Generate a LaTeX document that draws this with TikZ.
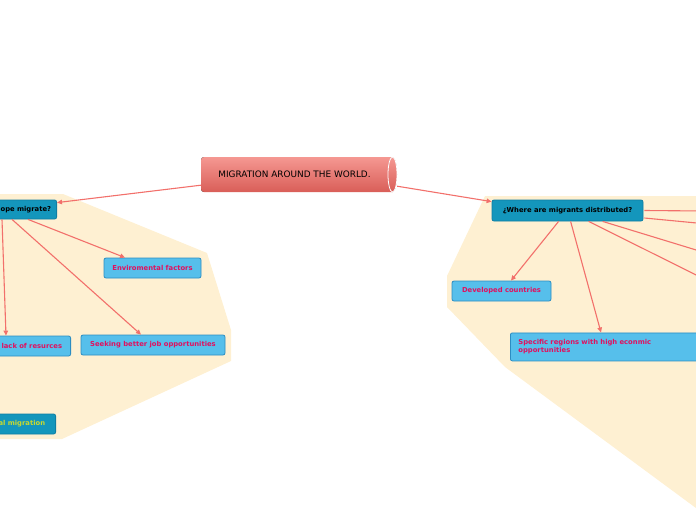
\documentclass[tikz,border=0pt]{standalone}
\usepackage{fontspec}
\setmainfont{DejaVu Sans}
\usetikzlibrary{arrows.meta}
\definecolor{cream}{HTML}{FEF0D2}
\definecolor{lblue}{HTML}{56BFEB}
\definecolor{lblueb}{HTML}{2C8DC2}
\definecolor{dblue}{HTML}{1496BC}
\definecolor{dblueb}{HTML}{0F7EA3}
\definecolor{pinktxt}{HTML}{E0115F}
\definecolor{conn}{HTML}{F2706B}
\definecolor{ygreen}{HTML}{C9D930}
\definecolor{cylT}{HTML}{F59892}
\definecolor{cylB}{HTML}{D95E58}
\begin{document}
\begin{tikzpicture}[x=1pt,y=-1pt,
  lbox/.style={draw=lblueb, fill=lblue, rounded corners=2pt, line width=0.8pt,
    font=\fontsize{6.8}{8}\selectfont\bfseries, text=pinktxt, inner ysep=0pt, inner xsep=0pt},
  dbox/.style={draw=dblueb, fill=dblue, rounded corners=2pt, line width=0.8pt,
    font=\fontsize{6.8}{8}\selectfont\bfseries, text=black, inner ysep=0pt, inner xsep=0pt},
  conline/.style={draw=conn, line width=1.1pt},
  arr/.style={conline, -{Triangle[length=5pt,width=4.5pt]}},
  bgarea/.style={fill=cream, draw=none}]
\useasboundingbox (0,0) rectangle (696,520);
\clip (0,0) rectangle (696,520);

% background areas
\path[bgarea] (-5,194) -- (63,194) -- (207,253) -- (231,330) -- (231,361) -- (62,439) -- (-5,439) -- cycle;
\path[bgarea] (485,196) -- (700,196) -- (700,511) -- (505,367) -- (447,307) -- (447,276) -- cycle;

% central cylinder
\begin{scope}
\clip[rounded corners=3pt] (201,157) rectangle (420,192);
\fill[top color=cylT, bottom color=cylB] (201,157) rectangle (392.5,192);
\end{scope}
\fill[top color=cylT, bottom color=cylB] (392.5,174.5) ellipse [x radius=4.5, y radius=17.5];
\draw[white, line width=0.8pt] (392.5,174.5) ellipse [x radius=4.5, y radius=17.5];
\node (C) [minimum width=187pt, minimum height=35pt, inner sep=0pt,
  font=\fontsize{8.9}{10}\selectfont, text=black] at (294.5,174.5) {MIGRATION AROUND THE WORLD.};

% main nodes
\node (L) [dbox, anchor=east, minimum height=19pt, text width=90pt, align=right, inner xsep=5.5pt] at (57,209.5) {ope migrate?};
\node (W) [dbox, minimum width=151pt, minimum height=21pt] at (567.5,210.5) {¿Where are migrants distributed?};

% left children
\node (E) [lbox, minimum width=97pt, minimum height=20pt] at (152.5,268) {Enviromental factors};
\node (J) [lbox, minimum width=144pt, minimum height=20pt] at (153,345) {Seeking better job opportunities};
\node (K) [lbox, anchor=east, minimum height=20pt, text width=90pt, align=right, inner xsep=8.5pt] at (71,346) {lack of resurces};
\node (M) [dbox, anchor=east, minimum height=20pt, text width=80pt, align=right, inner xsep=10.5pt, text=ygreen] at (56,424) {al migration};

% right children
\node (D) [lbox, minimum width=99pt, minimum height=20pt] at (501.5,291) {Developed countries};
\node (S) [lbox, anchor=north west, minimum height=28pt, text width=190pt, align=left, inner xsep=8pt] at (510,332.5) {Specific regions with high econmic\\opportunities};

% off-page ends
\coordinate (r1) at (705,211);
\coordinate (r2) at (705,223.8);
\coordinate (r3) at (705,252.7);
\coordinate (r4) at (705,279.4);

% connectors
\draw[arr] ([yshift=7pt]C.south west) -- ([yshift=-3pt]L.north east);
\draw[arr] ([xshift=9pt,yshift=6pt]C.south east) -- ([yshift=-2pt]W.north west);
\draw[arr] ([xshift=-29pt]L.south east) -- ([xshift=-27.5pt]E.north);
\draw[arr] ([xshift=-45pt]L.south east) -- ([xshift=-12pt]J.north);
\draw[arr] ([xshift=-55pt]L.south east) -- ([xshift=-65pt]K.north east);
\draw[arr] ([xshift=67pt]W.south west) -- ([xshift=9.5pt]D.north);
\draw[arr] ([xshift=79pt]W.south west) -- ([xshift=91pt]S.north west);
\draw[conline] ([xshift=1pt]W.east) -- (r1);
\draw[conline] ([xshift=1pt,yshift=-7.5pt]W.east) -- (r2);
\draw[conline] ([xshift=111pt]W.south west) -- (r3);
\draw[conline] ([xshift=97pt]W.south west) -- (r4);
\end{tikzpicture}
\end{document}
